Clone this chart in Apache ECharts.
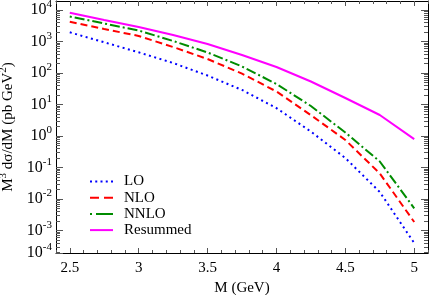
<!DOCTYPE html>
<html><head><meta charset="utf-8">
<script src="https://cdn.jsdelivr.net/npm/echarts@6/dist/echarts.min.js"></script>
<style>html,body{margin:0;padding:0;background:#fff}#c{width:429px;height:295px}</style>
</head><body><div id="c"></div>
<script>
const masses = [2.5, 2.75, 3, 3.25, 3.5, 3.75, 4, 4.25, 4.5, 4.75, 5];
const lo = [1960, 944, 454, 208, 83, 29, 7.7, 1.38, 0.20, 0.0167, 0.00040];
const nlo = [4250, 2490, 1500, 670, 278, 96, 25.9, 4.6, 0.75, 0.065, 0.00186];
const nnlo = [6220, 3730, 2230, 1040, 448, 161, 44.8, 8.96, 1.29, 0.155, 0.00507];
const resummed = [8200, 4820, 2880, 1610, 834, 372, 155, 53.7, 16.1, 4.64, 0.80];
const seriesNames = ['LO', 'NLO', 'NNLO', 'Resummed'];
const xTickLabels = [2.5, 3, 3.5, 4, 4.5, 5];
const yExponents = [-4, -3, -2, -1, 0, 1, 2, 3, 4];

const X_MIN = 2.4, X_MAX = 5.1;
const Y_MIN = Math.pow(10, -3.714), Y_MAX = Math.pow(10, 4.286);
const FONT = 'Liberation Serif';

const xMinor = [];
for (let i = 24; i <= 51; i++) xMinor.push(i / 10);
const yMajor = [], yMinor = [];
yExponents.forEach(e => {
  yMajor.push(Math.pow(10, e));
  for (let m = 2; m <= 9; m++) yMinor.push(m * Math.pow(10, e));
});

const pairs = arr => masses.map((m, i) => [m, arr[i]]);
const black = '#000';

function xAx(pos, major, withLabels) {
  return {
    type: 'value', min: X_MIN, max: X_MAX, position: pos,
    axisLine: { show: major, onZero: false, lineStyle: { color: black, width: 1 } },
    axisTick: { show: true, inside: true, length: major ? 5 : 3, customValues: major ? xTickLabels : xMinor,
      lineStyle: { color: '#555', width: 1 } },
    axisLabel: withLabels ? { show: true, customValues: xTickLabels, color: black, fontFamily: FONT, fontSize: 15, margin: 8,
      formatter: v => String(v) } : { show: false },
    splitLine: { show: false },
    name: withLabels ? 'M (GeV)' : '', nameLocation: 'middle', nameGap: 23,
    nameTextStyle: { color: black, fontFamily: FONT, fontSize: 15 }
  };
}
function yAx(pos, major, withLabels) {
  const o = {
    type: 'log', min: Y_MIN, max: Y_MAX, position: pos, logBase: 10,
    axisLine: { show: major, onZero: false, lineStyle: { color: black, width: 1 } },
    axisTick: { show: true, inside: true, length: major ? 7 : 4,
      lineStyle: { color: '#555', width: 1 } },
    splitLine: { show: false },
    axisLabel: { show: false }
  };
  if (!withLabels) o.axisTick.customValues = major ? yMajor : yMinor;
  if (withLabels) {
    o.axisLabel = {
      show: true, showMinLabel: true, showMaxLabel: false, margin: 4,
      formatter: v => {
        const e = Math.log10(v), r = Math.round(e);
        if (Math.abs(e - r) < 0.01) return '{b|10}{s|' + r + '}';
        if (e < -3.5) return '{b|10}{s|' + yExponents[0] + '}';
        return '';
      },
      rich: {
        b: { fontFamily: FONT, fontSize: 16, color: black },
        s: { fontFamily: FONT, fontSize: 11, color: black, padding: [0, 0, 11, 0] }
      }
    };
    o.name = '{n|M}{s|3}{n| dσ/dM (pb GeV}{s|2}{n|)}';
    o.nameLocation = 'middle';
    o.nameRotate = 90;
    o.nameGap = 36;
    o.nameTextStyle = {
      rich: {
        n: { fontFamily: FONT, fontSize: 15, color: black },
        s: { fontFamily: FONT, fontSize: 11, color: black, padding: [0, 0, 10, 0] }
      }
    };
  }
  return o;
}

const styles = [
  { color: '#0000ff', type: [2, 3.5] },
  { color: '#ff0000', type: [7, 4] },
  { color: '#008c00', type: [2, 3, 10, 3] },
  { color: '#ff00ff', type: 'solid' }
];
// legend swatches drawn as small bars reproducing each line pattern (23 x 2 units)
const legendIcons = [
  'path://M0,0h2v2h-2zM5.25,0h2v2h-2zM10.5,0h2v2h-2zM15.75,0h2v2h-2zM21,0h2v2h-2z',
  'path://M0,0h9v2h-9zM14,0h9v2h-9z',
  'path://M0,0h2v2h-2zM6,0h17v2h-17z',
  'path://M0,0h23v2h-23z'
];
const datasets = [lo, nlo, nnlo, resummed];

const chart = echarts.init(document.getElementById('c'), null, { renderer: 'canvas' });
chart.setOption({
  animation: false,
  backgroundColor: '#fff',
  grid: { left: 56, right: 1, top: 1, bottom: 42, containLabel: false, outerBoundsMode: 'none' },
  legend: {
    orient: 'vertical', left: 90, top: 174, itemWidth: 23, itemHeight: 2, itemGap: 1.2, padding: 0,
    data: seriesNames.map((n, i) => ({ name: n, icon: legendIcons[i] })),
    textStyle: { fontFamily: FONT, fontSize: 15, color: black, padding: [0, 0, 0, 6] }
  },
  xAxis: [xAx('bottom', true, true), xAx('bottom', false, false), xAx('top', true, false), xAx('top', false, false)],
  yAxis: [yAx('left', true, true), yAx('left', false, false), yAx('right', true, false), yAx('right', false, false)],
  series: datasets.map((d, i) => ({
    name: seriesNames[i], type: 'line', data: pairs(d), xAxisIndex: 0, yAxisIndex: 0,
    symbol: 'none', showSymbol: false, smooth: false,
    lineStyle: { color: styles[i].color, width: 2, type: styles[i].type },
    itemStyle: { color: styles[i].color }
  }))
});
</script></body></html>
